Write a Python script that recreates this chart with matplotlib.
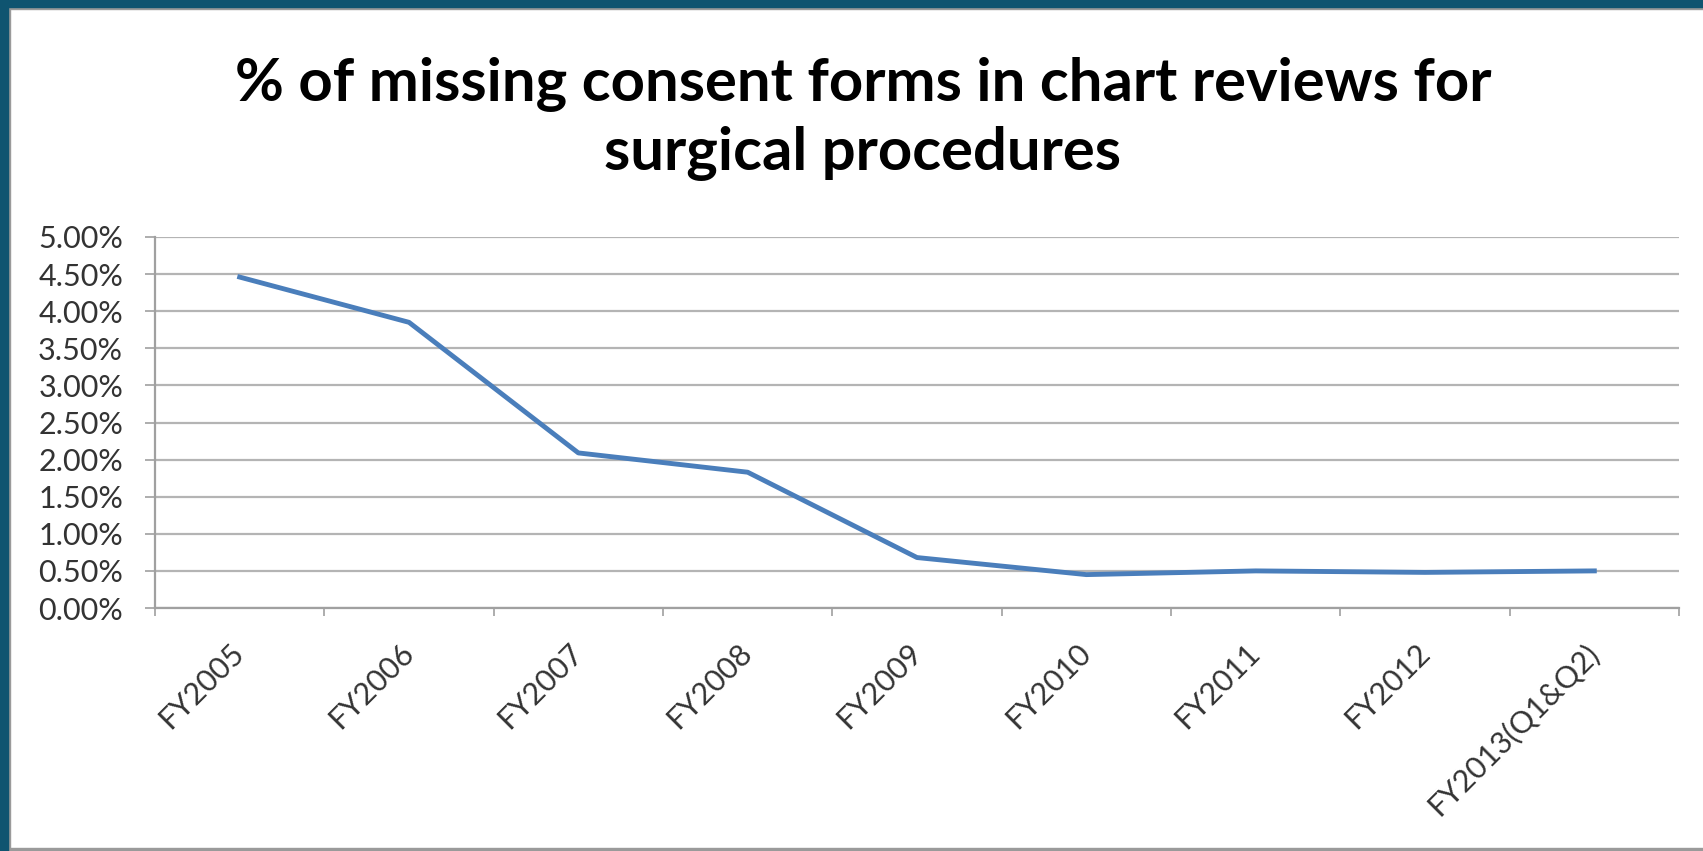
import matplotlib
matplotlib.use('Agg')
import matplotlib.pyplot as plt
from matplotlib.patches import Rectangle
from matplotlib.ticker import FixedLocator, FuncFormatter

#----- DATA -----
years=['FY2005','FY2006','FY2007','FY2008','FY2009','FY2010','FY2011','FY2012','FY2013(Q1&Q2)']
missing=[4.46,3.85,2.09,1.83,0.68,0.45,0.50,0.48,0.50]   # percent
yticks=[0,0.5,1.0,1.5,2.0,2.5,3.0,3.5,4.0,4.5,5.0]

title='% of missing consent forms in chart reviews for\nsurgical procedures'

#----- PLOT -----
fig=plt.figure(figsize=(17.03,8.51),dpi=100)
fig.patch.set_facecolor('white')

# dark frame on the top and left, grey shadow lines
fig.add_artist(Rectangle((0,0),8/1703,1,transform=fig.transFigure,color='#0f5470',zorder=5))
fig.add_artist(Rectangle((0,1-7/851),1,7/851,transform=fig.transFigure,color='#0f5470',zorder=5))
fig.add_artist(Rectangle((8/1703,0),2/1703,1-7/851,transform=fig.transFigure,color='#9a9a9a',zorder=4))
fig.add_artist(Rectangle((8/1703,1-9/851),1,2/851,transform=fig.transFigure,color='#9a9a9a',zorder=4))
fig.add_artist(Rectangle((0,0),1,3/851,transform=fig.transFigure,color='#9a9a9a',zorder=4))

ax=fig.add_axes([155/1703,1-608/851,(1679-155)/1703,(608-237)/851])
x=list(range(len(years)))
ax.plot(x,missing,color='#4a7ebb',linewidth=3.5,solid_joinstyle='round',zorder=3)

ax.set_xlim(-0.5,len(years)-0.5)
ax.set_ylim(0,5)
ax.yaxis.set_major_locator(FixedLocator(yticks))
ax.yaxis.set_major_formatter(FuncFormatter(lambda v,p:'%.2f%%'%v))
ax.grid(axis='y',color='#b4b4b4',linewidth=1.6)
ax.set_axisbelow(True)

ax.set_xticks(x)
ax.set_xticklabels(years,rotation=45,ha='right',va='center',rotation_mode='anchor',
                   fontsize=22,color='#333333',family='Lato')
ax.set_xticks([i-0.5 for i in range(len(years)+1)],minor=True)
ax.tick_params(axis='x',which='major',length=0,pad=29)
ax.tick_params(axis='x',which='minor',length=6,color='#a0a0a0',width=1.2)
ax.tick_params(axis='y',length=7,color='#a0a0a0',width=1.2,labelsize=22,labelcolor='#333333',pad=16)
for lab in ax.get_yticklabels():
    lab.set_family('Lato')

for s in ['top','right']:
    ax.spines[s].set_visible(False)
for s in ['left','bottom']:
    ax.spines[s].set_color('#a0a0a0')
    ax.spines[s].set_linewidth(1.6)

fig.text(863/1703,1-119/851,title,ha='center',va='center',fontsize=43,fontweight='bold',
         family='Lato',color='black',linespacing=1.3)

fig.savefig('out.png',dpi=100,facecolor='white')
